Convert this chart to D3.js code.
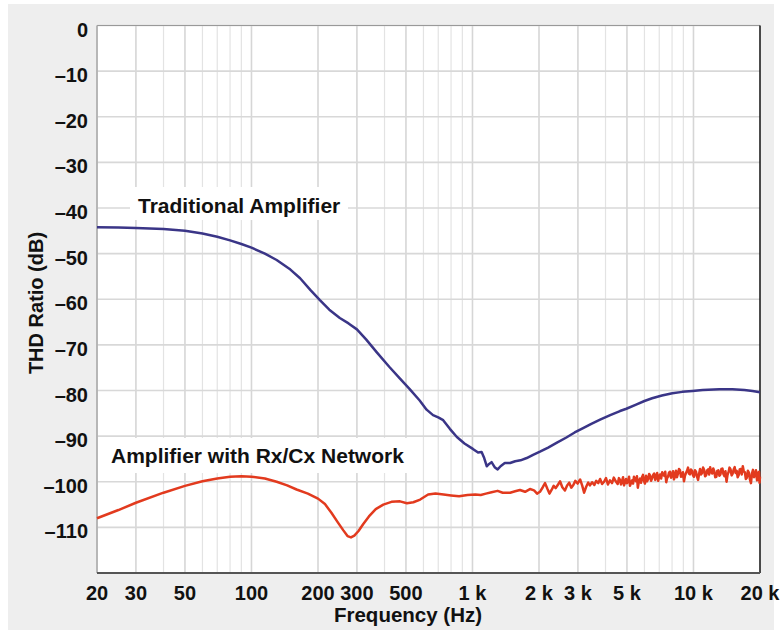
<!DOCTYPE html>
<html lang="en">
<head>
    <meta charset="UTF-8">
    <title>THD Ratio vs Frequency</title>
    <script src="https://d3js.org/d3.v7.min.js"></script>
    <style>
        body { margin: 0; background: white; }
        text { font-family: "Liberation Sans", Arial, sans-serif; font-weight: bold; fill: #111; }
    </style>
</head>
<body>
    <svg width="782" height="640"></svg>

    <script>
        // Ticks
        const xTicks = [20, 30, 50, 100, 200, 300, 500, 1000, 2000, 3000, 5000, 10000, 20000];
        const xTickLabels = ["20", "30", "50", "100", "200", "300", "500", "1 k", "2 k", "3 k", "5 k", "10 k", "20 k"];
        const yTicks = [0, -10, -20, -30, -40, -50, -60, -70, -80, -90, -100, -110];
        const majorGrid = [20, 30, 50, 100, 200, 300, 500, 1000, 2000, 3000, 5000, 10000];
        const minorGrid = [40, 60, 70, 80, 90, 400, 600, 700, 800, 900, 4000, 6000, 7000, 8000, 9000];

        // Traditional amplifier: [Hz, dB]
        const traditional = [
            [20, -44.2], [25, -44.3], [30, -44.4], [40, -44.6], [50, -45.0], [60, -45.6], [70, -46.3],
            [80, -47.1], [90, -47.9], [100, -48.7], [115, -50.0], [130, -51.4], [150, -53.5], [166, -55.4],
            [185, -58.0], [204, -60.2], [225, -62.3], [251, -64.1], [275, -65.3], [300, -66.6], [330, -68.8],
            [370, -71.7], [420, -74.8], [470, -77.4], [520, -79.7], [577, -82.2], [620, -84.2], [663, -85.4],
            [700, -85.9], [737, -86.5], [790, -88.4], [850, -90.2], [920, -91.6], [1004, -92.8], [1060, -93.6],
            [1100, -93.5], [1130, -94.8], [1160, -96.6], [1190, -96.1], [1220, -95.7], [1260, -96.8],
            [1300, -97.3], [1340, -96.6], [1400, -95.9], [1480, -95.9], [1560, -95.5], [1650, -95.3],
            [1760, -94.8], [1880, -94.1], [2020, -93.4], [2200, -92.5], [2400, -91.5], [2660, -90.3],
            [2900, -89.2], [3150, -88.3], [3450, -87.3], [3780, -86.4], [4200, -85.4], [4650, -84.5],
            [4970, -84.0], [5500, -83.1], [6000, -82.3], [6500, -81.7], [7200, -81.1], [8030, -80.6],
            [8900, -80.3], [9890, -80.1], [11000, -79.9], [13100, -79.7], [15000, -79.7], [17000, -79.9],
            [18500, -80.1], [20000, -80.4]
        ];

        // Amplifier with Rx/Cx network: [Hz, dB]
        const rxcx = [
            [20, -108.0], [25, -106.2], [30, -104.6], [40, -102.4], [50, -100.9], [60, -99.9], [70, -99.3],
            [80, -98.9], [90, -98.8], [100, -98.9], [115, -99.3], [130, -100.0], [145, -100.8], [160, -101.7],
            [180, -102.6], [200, -103.7], [215, -104.9], [230, -106.8], [245, -108.8], [260, -110.6],
            [272, -111.9], [282, -112.2], [292, -111.8], [305, -110.8], [320, -109.3], [340, -107.6],
            [365, -106.0], [395, -105.0], [430, -104.4], [470, -104.3], [505, -104.7], [540, -104.5],
            [580, -103.9], [630, -102.8], [680, -102.6], [740, -102.8], [800, -103.0], [870, -103.2],
            [950, -102.9], [1030, -102.8], [1090, -102.9], [1150, -102.6], [1220, -102.3], [1300, -102.0],
            [1370, -102.4], [1480, -102.4], [1560, -102.1], [1640, -101.8], [1730, -102.2], [1820, -101.6],
            [1900, -101.9], [1960, -102.6], [2020, -102.2], [2080, -101.2], [2130, -100.3], [2180, -101.5],
            [2230, -102.6], [2280, -101.8], [2330, -100.9], [2380, -101.4], [2440, -100.6], [2490, -99.9],
            [2550, -101.2], [2620, -101.9], [2680, -100.8], [2740, -100.2], [2800, -101.3], [2860, -100.7],
            [2920, -99.8], [2990, -100.4], [3070, -99.5], [3140, -100.9], [3200, -102.4], [3270, -101.1],
            [3340, -100.2], [3400, -100.8], [3480, -100.1], [3560, -100.7], [3630, -99.8], [3710, -100.3],
            [3780, -99.4], [3860, -100.5], [3940, -100.0], [4020, -99.2], [4100, -100.6], [4190, -99.7],
            [4280, -100.3], [4360, -99.1], [4450, -99.9], [4540, -100.5], [4600, -99.2], [4650, -99.6],
            [4700, -100.6], [4750, -99.9], [4800, -99.0], [4850, -100.8], [4900, -100.1], [4950, -99.4],
            [5000, -100.3], [5060, -99.8], [5110, -98.9], [5160, -100.9], [5220, -100.2], [5280, -99.7],
            [5330, -100.4], [5380, -98.9], [5440, -99.6], [5500, -99.9], [5550, -98.8], [5600, -101.3],
            [5660, -100.0], [5730, -99.3], [5790, -100.2], [5850, -99.0], [5910, -98.5], [5970, -99.8],
            [6030, -100.4], [6100, -98.7], [6160, -99.9], [6230, -99.5], [6300, -98.3], [6360, -98.6],
            [6430, -99.8], [6500, -99.2], [6570, -98.5], [6640, -98.2], [6710, -99.6], [6780, -98.9],
            [6850, -98.1], [6920, -99.8], [6990, -99.0], [7060, -98.4], [7140, -99.3], [7220, -97.9],
            [7300, -98.5], [7380, -98.7], [7450, -97.8], [7530, -100.1], [7600, -99.2], [7680, -98.8],
            [7750, -98.0], [7830, -97.8], [7910, -99.1], [8000, -98.6], [8080, -97.7], [8160, -99.5],
            [8250, -98.8], [8330, -97.6], [8420, -99.0], [8500, -98.3], [8600, -97.2], [8690, -97.5],
            [8780, -98.9], [8870, -98.8], [8960, -97.9], [9060, -99.9], [9150, -98.7], [9250, -98.1],
            [9350, -97.6], [9450, -96.9], [9540, -98.2], [9640, -98.4], [9740, -97.3], [9850, -97.6],
            [9950, -98.6], [10050, -98.9], [10160, -97.5], [10270, -97.8], [10380, -98.9], [10490, -99.6],
            [10600, -98.3], [10710, -97.2], [10820, -98.4], [10940, -98.1], [11050, -96.9], [11170, -97.4],
            [11290, -98.8], [11410, -98.6], [11530, -97.5], [11650, -97.3], [11770, -98.4], [11900, -96.8],
            [12030, -97.9], [12160, -98.2], [12290, -97.1], [12420, -97.7], [12550, -99.0], [12690, -98.9],
            [12820, -97.6], [12960, -97.5], [13100, -98.7], [13240, -98.4], [13380, -97.2], [13520, -97.1],
            [13660, -98.3], [13810, -98.8], [13960, -97.7], [14110, -100.0], [14260, -98.5], [14410, -97.9],
            [14560, -96.9], [14720, -97.3], [14880, -98.6], [15040, -98.2], [15200, -97.3], [15360, -96.8],
            [15520, -98.1], [15690, -97.6], [15850, -99.0], [16020, -98.5], [16190, -97.3], [16370, -97.2],
            [16540, -98.4], [16720, -96.6], [16900, -97.8], [17080, -97.9], [17260, -99.4], [17440, -99.1],
            [17630, -97.6], [17820, -98.0], [18010, -99.5], [18200, -100.3], [18390, -98.2], [18590, -97.4],
            [18780, -99.0], [18980, -98.6], [19180, -97.5], [19390, -99.7], [19590, -98.1], [19800, -97.8],
            [19900, -100.2], [20000, -98.9]
        ];

        const width = 782, height = 640;
        const margin = { top: 25.5, right: 22, bottom: 67, left: 97 };

        const svg = d3.select("svg")
                      .attr("width", width)
                      .attr("height", height);

        const xScale = d3.scaleLog()
                         .domain([20, 20000])
                         .range([margin.left, width - margin.right]);

        const yScale = d3.scaleLinear()
                         .domain([-120, 0])
                         .range([height - margin.bottom, margin.top]);

        // Gray panel + white plot area
        svg.append("rect")
           .attr("x", 8).attr("y", 4)
           .attr("width", 766).attr("height", 626)
           .attr("fill", "#eeeeee");

        svg.append("rect")
           .attr("x", xScale(20)).attr("y", yScale(0))
           .attr("width", xScale(20000) - xScale(20))
           .attr("height", yScale(-120) - yScale(0))
           .attr("fill", "white");

        // Gridlines
        svg.selectAll(".minor-grid")
           .data(minorGrid)
           .enter().append("line")
           .attr("x1", d => xScale(d)).attr("x2", d => xScale(d))
           .attr("y1", yScale(0)).attr("y2", yScale(-120))
           .attr("stroke", "#e3e3e3")
           .attr("stroke-width", 1.2);

        svg.selectAll(".major-grid")
           .data(majorGrid)
           .enter().append("line")
           .attr("x1", d => xScale(d)).attr("x2", d => xScale(d))
           .attr("y1", yScale(0)).attr("y2", yScale(-120))
           .attr("stroke", "#d6d6d6")
           .attr("stroke-width", 1.6);

        svg.selectAll(".h-grid")
           .data(yTicks)
           .enter().append("line")
           .attr("x1", xScale(20)).attr("x2", xScale(20000))
           .attr("y1", d => yScale(d)).attr("y2", d => yScale(d))
           .attr("stroke", "#d8d8d8")
           .attr("stroke-width", 1.6);

        // Frame: light top/left, dark right/bottom
        const x0 = xScale(20), x1 = xScale(20000), y0 = yScale(0), y1 = yScale(-120);
        svg.append("line").attr("x1", x0).attr("x2", x1).attr("y1", y0).attr("y2", y0)
           .attr("stroke", "#999").attr("stroke-width", 1.2);
        svg.append("line").attr("x1", x0).attr("x2", x0).attr("y1", y0).attr("y2", y1)
           .attr("stroke", "#aaa").attr("stroke-width", 1.5);
        svg.append("line").attr("x1", x1).attr("x2", x1).attr("y1", y0).attr("y2", y1)
           .attr("stroke", "#111").attr("stroke-width", 1.5);
        svg.append("line").attr("x1", x0).attr("x2", x1).attr("y1", y1).attr("y2", y1)
           .attr("stroke", "#555").attr("stroke-width", 2);

        // Tick labels
        svg.selectAll(".ylab")
           .data(yTicks)
           .enter().append("text")
           .attr("x", 88)
           .attr("y", d => yScale(d) + 11)
           .attr("text-anchor", "end")
           .style("font-size", "20px")
           .text(d => d === 0 ? "0" : "\u2013" + Math.abs(d));

        svg.selectAll(".xlab")
           .data(xTicks)
           .enter().append("text")
           .attr("x", d => xScale(d))
           .attr("y", 600)
           .attr("text-anchor", "middle")
           .style("font-size", "20px")
           .text((d, i) => xTickLabels[i]);

        // Axis titles
        svg.append("text")
           .attr("x", 408)
           .attr("y", 622)
           .attr("text-anchor", "middle")
           .style("font-size", "20.5px")
           .text("Frequency (Hz)");

        svg.append("text")
           .attr("transform", "translate(43,303) rotate(-90)")
           .attr("text-anchor", "middle")
           .style("font-size", "20px")
           .text("THD Ratio (dB)");

        // Curves
        const line = d3.line()
                       .x(d => xScale(d[0]))
                       .y(d => yScale(d[1]));

        svg.append("path")
           .datum(traditional)
           .attr("fill", "none")
           .attr("stroke", "#3a3587")
           .attr("stroke-width", 2.5)
           .attr("stroke-linejoin", "round")
           .attr("d", line);

        svg.append("path")
           .datum(rxcx)
           .attr("fill", "none")
           .attr("stroke", "#e23a1e")
           .attr("stroke-width", 2.5)
           .attr("stroke-linejoin", "round")
           .attr("d", line);

        // Curve labels with white boxes
        const labels = [
            { text: "Traditional Amplifier", x: 138, y: 213, box: [130, 187, 218, 33] },
            { text: "Amplifier with Rx/Cx Network", x: 111, y: 463, box: [101, 438, 316, 35] }
        ];

        labels.forEach(l => {
            svg.append("rect")
               .attr("x", l.box[0]).attr("y", l.box[1])
               .attr("width", l.box[2]).attr("height", l.box[3])
               .attr("fill", "white");
            svg.append("text")
               .attr("x", l.x)
               .attr("y", l.y)
               .style("font-size", "21px")
               .text(l.text);
        });
    </script>
</body>
</html>
